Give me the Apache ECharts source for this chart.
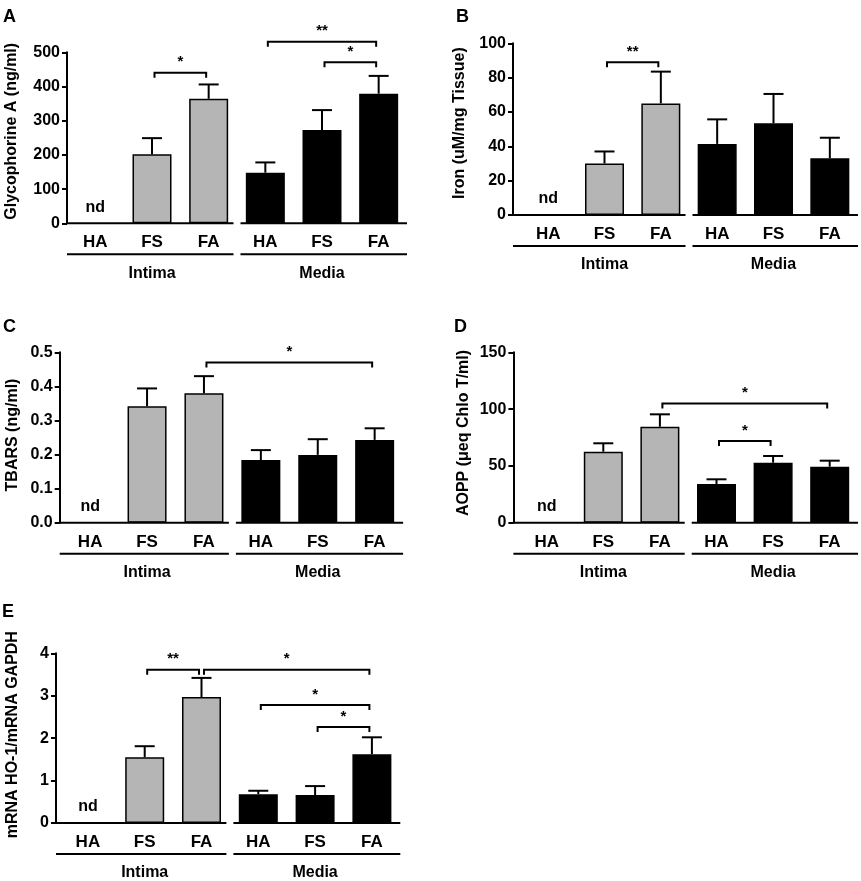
<!DOCTYPE html>
<html>
<head>
<meta charset="utf-8">
<title>Intima / Media panels</title>
<script src="https://cdn.jsdelivr.net/npm/echarts@6/dist/echarts.min.js"></script>
<style>
  html, body { margin: 0; padding: 0; background: #fff; }
  #chart { width: 861px; height: 881px; }
</style>
</head>
<body>
<div id="chart"></div>
<script>
// categories
const groups = ['Intima', 'Media'];
const conditions = ['HA', 'FS', 'FA'];

// A - Glycophorine A (null = nd)
const intimaA = [null, 202, 364];
const intimaSemA = [null, 47, 42];
const mediaA = [148, 273, 379];
const mediaSemA = [30, 58, 52];
const bracketsA = [[1, 2, 440, '*'], [3, 5, 531, '**'], [4, 5, 471, '*']];

// B - Iron
const intimaB = [null, 30, 65];
const intimaSemB = [null, 7, 18.5];
const mediaB = [41.4, 53.4, 33];
const mediaSemB = [14.3, 17.1, 12];
const bracketsB = [[1, 2, 89, '**']];

// C - TBARS
const intimaC = [null, 0.342, 0.380];
const intimaSemC = [null, 0.052, 0.050];
const mediaC = [0.184, 0.199, 0.243];
const mediaSemC = [0.029, 0.046, 0.034];
const bracketsC = [[2, 5, 0.47, '*']];

// D - AOPP
const intimaD = [null, 62.5, 84.5];
const intimaSemD = [null, 7.4, 10.9];
const mediaD = [34.1, 52.8, 49.3];
const mediaSemD = [4.1, 5.9, 5.3];
const bracketsD = [[2, 5, 105, '*'], [3, 4, 72, '*']];

// E - HO-1 mRNA
const intimaE = [null, 1.55, 2.97];
const intimaSemE = [null, 0.26, 0.45];
const mediaE = [0.68, 0.66, 1.62];
const mediaSemE = [0.08, 0.21, 0.40];
const bracketsE = [[1, 2, 3.61, '**'], [2, 5, 3.61, '*'], [3, 5, 2.78, '*'], [4, 5, 2.26, '*']];

const panels = [
  { letter: 'A', name: 'Glycophorine A (ng/ml)', max: 500, step: 100, digits: 0,
    intima: intimaA, intimaSem: intimaSemA, media: mediaA, mediaSem: mediaSemA, brackets: bracketsA,
    left: 67, top: 52.3, width: 340, height: 171, yOffset: 0, nameGap: 47, nameShift: 13, lx: 3, ly: 8 },
  { letter: 'B', name: 'Iron (uM/mg Tissue)', max: 100, step: 20, digits: 0,
    intima: intimaB, intimaSem: intimaSemB, media: mediaB, mediaSem: mediaSemB, brackets: bracketsB,
    left: 520, top: 43.3, width: 338, height: 171.7, yOffset: 7, nameGap: 45, nameShift: 12, lx: 456, ly: 8 },
  { letter: 'C', name: 'TBARS (ng/ml)', max: 0.5, step: 0.1, digits: 1,
    intima: intimaC, intimaSem: intimaSemC, media: mediaC, mediaSem: mediaSemC, brackets: bracketsC,
    left: 61.7, top: 352.3, width: 341.4, height: 170.4, yOffset: 2, nameGap: 39, nameShift: 5, lx: 3, ly: 318 },
  { letter: 'D', name: 'AOPP (μeq Chlo T/ml)', max: 150, step: 50, digits: 0,
    intima: intimaD, intimaSem: intimaSemD, media: mediaD, mediaSem: mediaSemD, brackets: bracketsD,
    left: 518.4, top: 352.3, width: 339.6, height: 170.4, yOffset: 5, nameGap: 42, nameShift: 9, lx: 454, ly: 318 },
  { letter: 'E', name: 'mRNA HO-1/mRNA GAPDH', max: 4, step: 1, digits: 0,
    intima: intimaE, intimaSem: intimaSemE, media: mediaE, mediaSem: mediaSemE, brackets: bracketsE,
    left: 59.5, top: 653.3, width: 340.8, height: 172.7, yOffset: 3.5, nameGap: 35, nameShift: 7, lx: 2, ly: 603 }
];

const FONT = 'Liberation Sans';
const cats = groups.flatMap(g => conditions.map(c => g + '|' + c));
const boldText = { fontFamily: FONT, fontWeight: 'bold', fontSize: 16, color: '#000' };
const line = (x1, y1, x2, y2) =>
  ({ type: 'line', shape: { x1, y1, x2, y2 }, style: { stroke: '#000', lineWidth: 2 } });

const title = [], grid = [], xAxis = [], yAxis = [], series = [];

panels.forEach((p, i) => {
  title.push({ text: p.letter, left: p.lx, top: p.ly, padding: 0,
    textStyle: { fontFamily: FONT, fontWeight: 'bold', fontSize: 18, color: '#000' } });
  grid.push({ left: p.left, top: p.top, width: p.width, height: p.height });

  xAxis.push({
    gridIndex: i, type: 'category', data: cats,
    axisLine: { show: false }, axisTick: { show: false },
    axisLabel: Object.assign({}, boldText, { fontSize: 17, margin: 11, interval: 0, formatter: v => v.split('|')[1] })
  });
  xAxis.push({
    gridIndex: i, type: 'category', data: groups, position: 'bottom', offset: 31,
    axisLine: { show: false }, axisTick: { show: false },
    axisLabel: Object.assign({ margin: 11, interval: 0 }, boldText)
  });

  yAxis.push({
    gridIndex: i, type: 'value', min: 0, max: p.max, interval: p.step, offset: p.yOffset,
    axisLine: { show: true, lineStyle: { color: '#000', width: 2 } },
    axisTick: { show: true, length: 5, lineStyle: { color: '#000', width: 2 } },
    axisLabel: Object.assign({ margin: 7, formatter: v => v.toFixed(p.digits) }, boldText),
    splitLine: { show: false },
    name: p.name, nameLocation: 'middle', nameRotate: 90, nameGap: p.nameGap,
    nameTextStyle: Object.assign({ padding: [0, 0, 0, p.nameShift] }, boldText)
  });

  const xi = i * 2;
  const blank = ['-', '-', '-'];
  series.push({
    type: 'bar', xAxisIndex: xi, yAxisIndex: i, barWidth: 39, barGap: '-100%', z: 2,
    data: p.intima.map(v => v == null ? '-' : v).concat(blank),
    itemStyle: { color: '#b5b5b5', borderColor: '#000', borderWidth: 1.5 }
  });
  series.push({
    type: 'bar', xAxisIndex: xi, yAxisIndex: i, barWidth: 39, barGap: '-100%', z: 2,
    data: blank.concat(p.media),
    itemStyle: { color: '#000', borderColor: '#000', borderWidth: 1.5 }
  });

  // error bars (upper only) and "nd"
  const means = p.intima.concat(p.media);
  const sems = p.intimaSem.concat(p.mediaSem);
  series.push({
    type: 'custom', xAxisIndex: xi, yAxisIndex: i, z: 3,
    data: means.map((m, k) => [k, m == null ? 0 : m]),
    renderItem: (params, api) => {
      const k = api.value(0);
      const m = means[k];
      if (m == null) {
        const pt = api.coord([k, 0]);
        return { type: 'text', x: pt[0], y: pt[1] - 16,
          style: { text: 'nd', align: 'center', verticalAlign: 'middle',
            font: 'bold 16px "' + FONT + '"', fill: '#000' } };
      }
      const a = api.coord([k, m]);
      const b = api.coord([k, m + sems[k]]);
      return { type: 'group', children: [
        line(a[0], a[1], b[0], b[1]),
        line(b[0] - 10, b[1], b[0] + 10, b[1])
      ] };
    }
  });

  // broken x axis and group underlines
  series.push({
    type: 'custom', xAxisIndex: xi, yAxisIndex: i, z: 4,
    data: groups.map((g, gi) => [gi * 3, 0]),
    renderItem: (params, api) => {
      const gi = params.dataIndex;
      const band = api.size([1, 0])[0];
      const first = api.coord([gi * 3, 0]);
      const last = api.coord([gi * 3 + 2, 0]);
      const x0 = first[0] - band / 2 + (gi === 0 ? -p.yOffset : 3.5);
      const x1 = last[0] + band / 2 - (gi === 0 ? 3.5 : 0);
      const y = first[1];
      return { type: 'group', children: [line(x0, y, x1, y), line(x0, y + 31, x1, y + 31)] };
    }
  });

  // significance brackets
  series.push({
    type: 'custom', xAxisIndex: xi, yAxisIndex: i, z: 4, clip: false,
    data: p.brackets.map(b => [b[0], b[2]]),
    renderItem: (params, api) => {
      const br = p.brackets[params.dataIndex];
      const a = api.coord([br[0], br[2]]);
      const b = api.coord([br[1], br[2]]);
      const xa = a[0] + 2.5, xb = b[0] - 2.5, y = a[1];
      return { type: 'group', children: [
        { type: 'polyline', shape: { points: [[xa, y + 5], [xa, y], [xb, y], [xb, y + 5]] },
          style: { stroke: '#000', lineWidth: 2, fill: null } },
        { type: 'text', x: (xa + xb) / 2, y: y - 3,
          style: { text: br[3], align: 'center', verticalAlign: 'bottom',
            font: 'bold 15px "' + FONT + '"', fill: '#000' } }
      ] };
    }
  });
});

const chart = echarts.init(document.getElementById('chart'));
chart.setOption({
  animation: false,
  backgroundColor: '#fff',
  textStyle: { fontFamily: FONT },
  title, grid, xAxis, yAxis, series
});
</script>
</body>
</html>
